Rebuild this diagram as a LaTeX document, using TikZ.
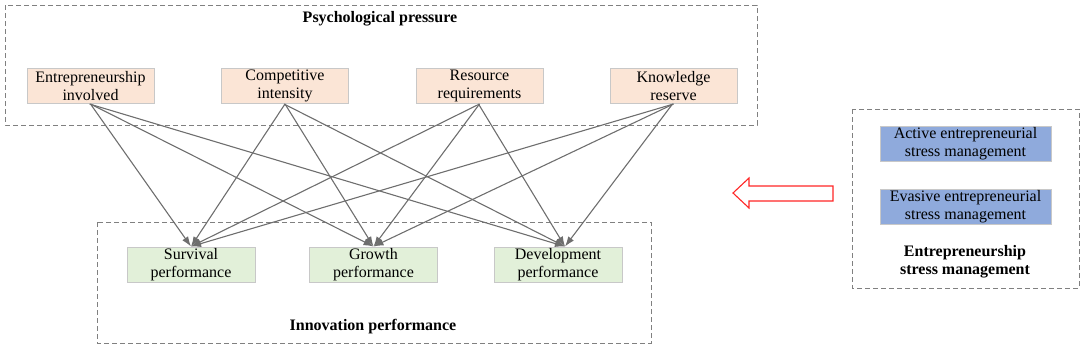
\documentclass[tikz,border=0pt]{standalone}
\usepackage{fontspec}
\setmainfont{Liberation Serif}
\usepackage{xcolor}
\usepackage{tikz}
\usetikzlibrary{arrows.meta,positioning}

\begin{document}
\begin{tikzpicture}[x=1pt, y=-1pt,
    box/.style={draw=boxline, line width=1pt, minimum width=127pt, minimum height=35pt,
        inner sep=1pt, align=center, font=\fontsize{16}{18}\selectfont},
    pressure/.style={box, fill=peach},
    perf/.style={box, fill=leaf, minimum width=128pt},
    coping/.style={box, fill=steel, minimum width=171pt},
    group/.style={draw=groupline, line width=0.9pt, dash pattern=on 5pt off 3pt},
    title/.style={font=\fontsize{16}{18}\selectfont\bfseries, align=center},
    link/.style={draw=linkgray, line width=1.1pt, -{Latex[length=10pt,width=7pt]}}]
    % Define colors
    \definecolor{peach}{RGB}{251,229,214}
    \definecolor{leaf}{RGB}{226,240,217}
    \definecolor{steel}{RGB}{143,170,220}
    \definecolor{boxline}{RGB}{200,200,200}
    \definecolor{groupline}{RGB}{128,128,128}
    \definecolor{linkgray}{RGB}{110,110,110}

    \useasboundingbox (0,0) rectangle (1084,349);

    % Dashed group frames
    \draw[group] (5,5) rectangle (757,125);
    \draw[group] (97,222) rectangle (651,343);
    \draw[group] (852,109) rectangle (1079,288);

    % Group titles
    \node[title] (pressT) at (380,19) {Psychological pressure};
    \node[title] (innovT) at (373,327) {Innovation performance};
    \node[title] (stressT) at (965,262) {Entrepreneurship\\stress management};

    % Psychological pressure factors
    \node[pressure] (involved) at (90.5,86) {Entrepreneurship\\involved};
    \node[pressure] (intensity) at (285,86) {Competitive\\intensity};
    \node[pressure] (resource) at (479.5,86) {Resource\\requirements};
    \node[pressure] (knowledge) at (673.5,86) {Knowledge\\reserve};

    % Innovation performance outcomes
    \node[perf] (survival) at (191,264.5) {Survival\\performance};
    \node[perf] (growth) at (373.5,264.5) {Growth\\performance};
    \node[perf] (develop) at (558,264.5) {Development\\performance};

    % Stress management styles
    \node[coping] (active) at (965.5,143.5) {Active entrepreneurial\\stress management};
    \node[coping] (evasive) at (965.5,206.5) {Evasive entrepreneurial\\stress management};

    % Every factor points to every outcome
    \foreach \src in {involved,intensity,resource,knowledge}{
        \draw[link] (\src.south) -- (survival.north);
        \draw[link] (\src.south) -- (growth.north);
        \draw[link] ([xshift=-1pt]\src.south) -- ([xshift=7pt]develop.north);
    }

    % Hollow red arrow
    \coordinate (tip) at (733,193);
    \draw[red!85!white, line width=1.1pt, fill=white]
        (tip) -- (749,178) -- (749,186) -- (833,186) -- (833,201)
        -- (749,201) -- (749,208) -- cycle;
\end{tikzpicture}
\end{document}
